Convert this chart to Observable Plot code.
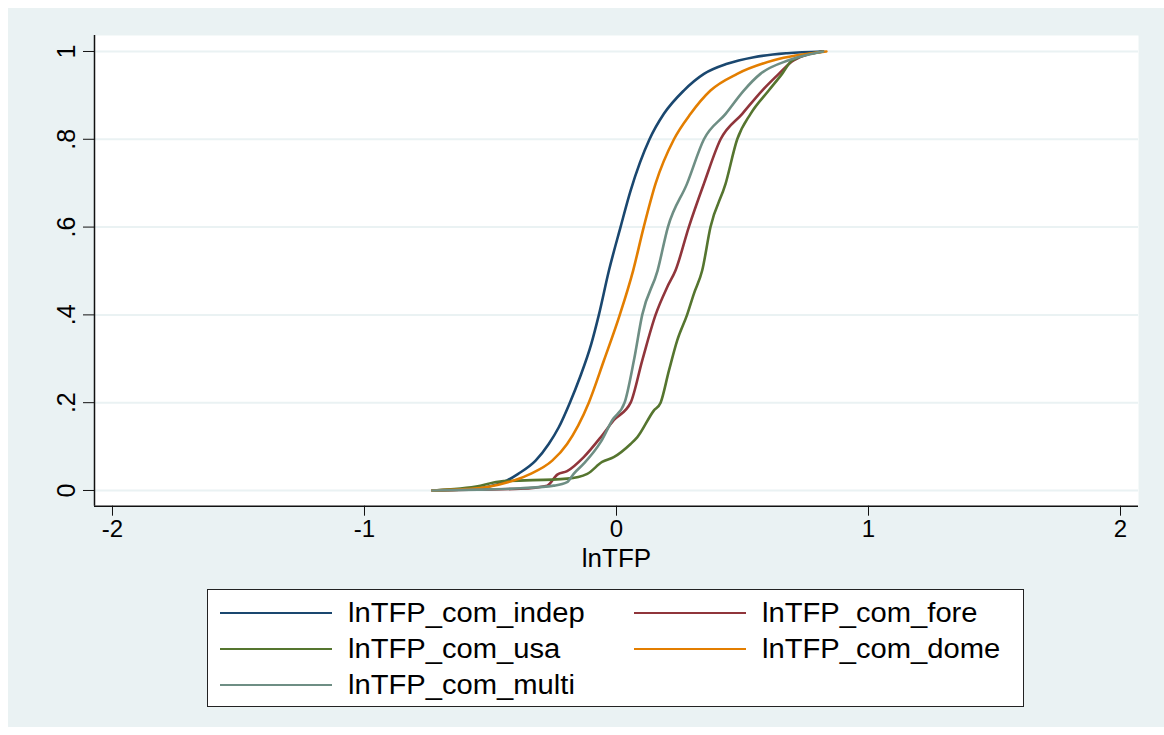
<!DOCTYPE html>
<html>
<head>
<meta charset="utf-8">
<script src="https://cdn.jsdelivr.net/npm/d3@7"></script>
<script src="https://cdn.jsdelivr.net/npm/@observablehq/plot@0.6"></script>
<style>
  html, body { margin: 0; padding: 0; background: #ffffff; }
  #wrap { position: relative; width: 1164px; height: 735px; overflow: hidden; font-family: "Liberation Sans", Arial, sans-serif; }
  #bg { position: absolute; left: 8px; top: 8px; width: 1156px; height: 719px; background: #EAF2F3; }
  #chart { position: absolute; left: 0; top: 0; }
  #legend { position: absolute; left: 207px; top: 589px; width: 815px; height: 116px; border: 1.5px solid #222; background: #ffffff; }
  .sw { position: absolute; width: 112px; height: 2.6px; }
  .lab { position: absolute; height: 36px; line-height: 36px; font-size: 27px; color: #000; white-space: nowrap; transform: scaleX(1.08); transform-origin: left center; }
</style>
</head>
<body>
<div id="wrap">
  <div id="bg"></div>
  <div id="chart"></div>
  <div id="legend"></div>
</div>
<script>
// ---- data ----
const seriesNames  = ["lnTFP_com_indep", "lnTFP_com_fore", "lnTFP_com_usa", "lnTFP_com_dome", "lnTFP_com_multi"];
const seriesColors = ["#1a476f", "#90353b", "#55752f", "#e37e00", "#6e8e84"];

const indepX = [-0.73,-0.6,-0.513,-0.434,-0.39,-0.321,-0.269,-0.229,-0.185,-0.145,-0.1,-0.07,-0.03,0.016,0.056,0.131,0.188,0.267,0.347,0.439,0.545,0.677,0.82];
const indepY = [0,0.003,0.008,0.023,0.038,0.068,0.106,0.144,0.2,0.258,0.334,0.4,0.501,0.6,0.683,0.8,0.858,0.911,0.949,0.972,0.987,0.996,1];

const foreX = [-0.73,-0.55,-0.381,-0.275,-0.235,-0.196,-0.13,-0.063,-0.011,0.056,0.102,0.155,0.201,0.234,0.287,0.347,0.413,0.499,0.578,0.644,0.703,0.82];
const foreY = [0,0.002,0.004,0.011,0.036,0.044,0.076,0.121,0.16,0.2,0.296,0.4,0.463,0.501,0.6,0.699,0.8,0.858,0.911,0.949,0.98,1];

const usaX = [-0.73,-0.54,-0.47,-0.196,-0.116,-0.057,-0.011,0.056,0.082,0.148,0.175,0.208,0.241,0.28,0.307,0.34,0.373,0.433,0.479,0.532,0.604,0.657,0.697,0.82];
const usaY = [0,0.011,0.02,0.027,0.038,0.065,0.076,0.106,0.121,0.182,0.2,0.273,0.342,0.4,0.448,0.501,0.6,0.699,0.8,0.858,0.911,0.949,0.98,1];

const domeX = [-0.73,-0.6,-0.513,-0.407,-0.341,-0.255,-0.196,-0.11,-0.05,0.013,0.066,0.108,0.155,0.228,0.294,0.373,0.479,0.624,0.833];
const domeY = [0,0.003,0.008,0.023,0.038,0.068,0.106,0.2,0.296,0.4,0.501,0.6,0.699,0.8,0.858,0.911,0.949,0.98,1];

const multiX = [-0.73,-0.55,-0.381,-0.249,-0.196,-0.17,-0.13,-0.063,-0.017,0.032,0.069,0.102,0.163,0.204,0.28,0.347,0.433,0.505,0.571,0.683,0.82];
const multiY = [0,0.002,0.005,0.011,0.019,0.038,0.061,0.11,0.16,0.2,0.296,0.4,0.501,0.6,0.699,0.8,0.858,0.911,0.949,0.98,1];

const xTicks = [-2, -1, 0, 1, 2];
const xTickLabels = ["-2", "-1", "0", "1", "2"];
const yTicks = [0, 0.2, 0.4, 0.6, 0.8, 1];
const yTickLabels = ["0", ".2", ".4", ".6", ".8", "1"];
const xTitle = "lnTFP";

// ---- build table ----
const seriesX = [indepX, foreX, usaX, domeX, multiX];
const seriesY = [indepY, foreY, usaY, domeY, multiY];
const data = [];
seriesNames.forEach((name, s) => {
  seriesX[s].forEach((x, i) => data.push({series: name, x, y: seriesY[s][i]}));
});

const H = 590;
const xDomain = [-2.0714, 2.0714];
const yDomain = [-0.0358, 1.0364];

const chart = Plot.plot({
  width: 1164,
  height: H,
  marginLeft: 94,
  marginRight: 26,
  marginTop: 35,
  marginBottom: H - 505.7,
  x: {domain: xDomain},
  y: {domain: yDomain},
  color: {domain: seriesNames, range: seriesColors},
  style: {background: "transparent", color: "#000", fontFamily: "'Liberation Sans', Arial, sans-serif", overflow: "visible"},
  marks: [
    Plot.frame({fill: "#ffffff", stroke: "none"}),
    Plot.gridY(yTicks, {stroke: "#EAF2F3", strokeOpacity: 1, strokeWidth: 2}),
    Plot.line(data, {x: "x", y: "y", z: "series", stroke: "series", strokeWidth: 2.6, curve: "monotone-x"}),
    Plot.ruleX([xDomain[0]], {stroke: "#111", strokeWidth: 1.5}),
    Plot.ruleY([yDomain[0]], {stroke: "#111", strokeWidth: 1.5}),
    Plot.axisY(yTicks, {tickSize: 11, tickRotate: -90, tickPadding: 9, fontSize: 25,
      tickFormat: d => yTickLabels[yTicks.indexOf(d)], label: null, stroke: "#111"}),
    Plot.axisX(xTicks, {tickSize: 10, tickPadding: 4, fontSize: 24,
      tickFormat: d => xTickLabels[xTicks.indexOf(d)], label: null, stroke: "#111"}),
    Plot.text([xTitle], {frameAnchor: "bottom", dy: 61, fontSize: 26, fill: "#000"})
  ]
});
document.getElementById("chart").appendChild(chart);

// ---- legend (2 columns, row-major like Stata) ----
const legend = document.getElementById("legend");
const colSwX = [12, 426], colTxtX = [140, 554], rowY = [23, 59, 95];
seriesNames.forEach((name, i) => {
  const r = Math.floor(i / 2), c = i % 2;
  const sw = document.createElement("div");
  sw.className = "sw";
  sw.style.left = colSwX[c] + "px";
  sw.style.top = (rowY[r] - 1.3) + "px";
  sw.style.background = seriesColors[i];
  legend.appendChild(sw);
  const lab = document.createElement("div");
  lab.className = "lab";
  lab.style.left = colTxtX[c] + "px";
  lab.style.top = (rowY[r] - 18) + "px";
  lab.textContent = name;
  legend.appendChild(lab);
});
</script>
</body>
</html>
